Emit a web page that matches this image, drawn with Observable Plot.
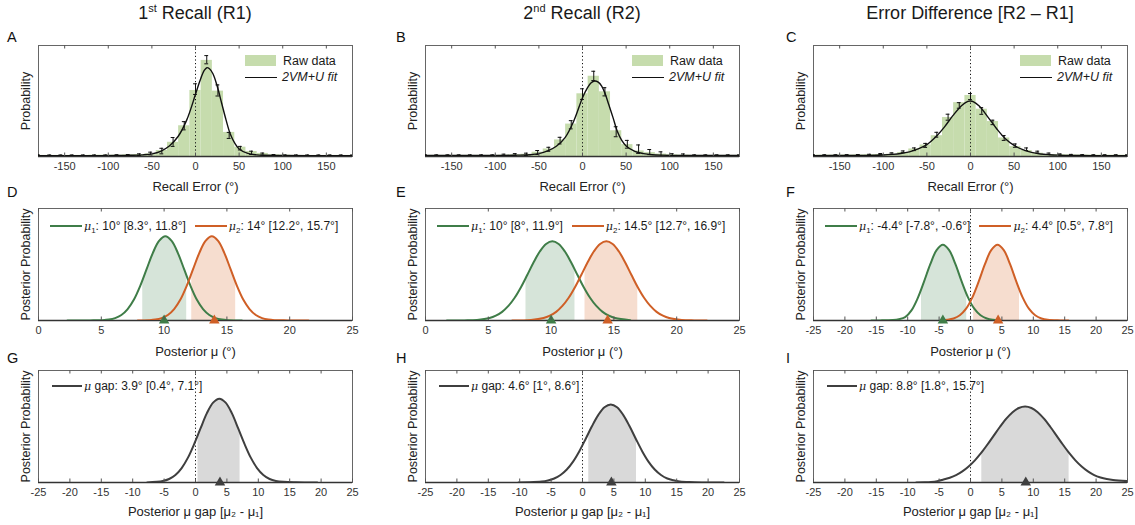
<!DOCTYPE html>
<html><head><meta charset="utf-8">
<script src="https://cdn.jsdelivr.net/npm/d3@7"></script>
<script src="https://cdn.jsdelivr.net/npm/@observablehq/plot@0.6"></script>
<style>
body{margin:0;background:#fff;font-family:"Liberation Sans",Arial,sans-serif;color:#1a1a1a;}
#root{position:relative;width:1135px;height:525px;overflow:hidden;background:#fff;}
.title{position:absolute;top:3px;font-size:18px;transform:translateX(-50%);white-space:nowrap;color:#1a1a1a;}
.title sup{font-size:11px;vertical-align:7px;line-height:0;}
.letter{position:absolute;font-size:14.5px;color:#111;}
.leg{position:absolute;display:flex;align-items:center;white-space:nowrap;color:#1a1a1a;}
.leg sub{font-size:8px;vertical-align:-3px;line-height:0;}
.leg i.mu{font-family:"DejaVu Serif","Liberation Serif",serif;font-size:11px;}
.leg i.fit{font-family:"Liberation Sans",Arial,sans-serif;font-size:12.5px;font-style:italic;}
</style></head>
<body><div id="root"></div>
<script>
// ---------- DATA ----------
const binCenters = [-180,-167.1,-154.3,-141.4,-128.6,-115.7,-102.9,-90,-77.1,-64.3,-51.4,-38.6,-25.7,-12.9,0,12.9,25.7,38.6,51.4,64.3,77.1,90,102.9,115.7,128.6,141.4,154.3,167.1,180];
const binWidth = 12.857;

const histA = [0.01,0.01,0.01,0.01,0.01,0.012,0.012,0.012,0.015,0.018,0.024,0.054,0.128,0.277,0.595,0.866,0.589,0.217,0.084,0.045,0.028,0.015,0.012,0.01,0.01,0.01,0.01,0.01,0.01];
const meanA = [0.01,0.01,0.01,0.01,0.01,0.01,0.01,0.012,0.012,0.016,0.027,0.049,0.131,0.277,0.607,0.872,0.595,0.19,0.075,0.033,0.022,0.012,0.01,0.01,0.01,0.01,0.01,0.01,0.01];
const seA   = [0.004,0.004,0.004,0.004,0.004,0.004,0.004,0.004,0.006,0.008,0.012,0.025,0.04,0.037,0.048,0.037,0.05,0.027,0.016,0.015,0.009,0.006,0.004,0.004,0.004,0.004,0.004,0.004,0.004];
const fitA = [[-180,0.008],[-150,0.008],[-120,0.008],[-90,0.009],[-75,0.011],[-60,0.015],[-50,0.024],[-40,0.047],[-30,0.095],[-20,0.18],[-10,0.33],[0,0.56],[5,0.68],[10,0.775],[13,0.8],[16,0.79],[20,0.745],[25,0.63],[30,0.48],[35,0.33],[40,0.2],[45,0.12],[50,0.068],[60,0.028],[70,0.015],[80,0.011],[100,0.009],[130,0.008],[180,0.008]];

const histB = [0.01,0.01,0.01,0.01,0.01,0.01,0.01,0.012,0.015,0.02,0.039,0.068,0.149,0.292,0.565,0.723,0.583,0.232,0.107,0.05,0.035,0.022,0.015,0.012,0.01,0.01,0.01,0.01,0.01];
const meanB = [0.01,0.01,0.01,0.01,0.01,0.01,0.01,0.015,0.018,0.02,0.036,0.065,0.143,0.286,0.562,0.726,0.583,0.223,0.11,0.066,0.04,0.022,0.015,0.015,0.01,0.01,0.01,0.01,0.01];
const seB   = [0.005,0.005,0.005,0.005,0.005,0.005,0.005,0.006,0.008,0.01,0.018,0.018,0.03,0.037,0.048,0.042,0.037,0.045,0.035,0.038,0.023,0.02,0.01,0.008,0.005,0.005,0.005,0.005,0.005];
const fitB = [[-180,0.009],[-120,0.009],[-90,0.01],[-75,0.012],[-60,0.016],[-50,0.026],[-40,0.05],[-30,0.092],[-20,0.17],[-10,0.32],[0,0.53],[5,0.61],[10,0.665],[14,0.68],[18,0.67],[22,0.635],[26,0.565],[30,0.47],[35,0.35],[40,0.225],[45,0.145],[50,0.095],[60,0.047],[70,0.026],[80,0.016],[90,0.012],[120,0.009],[180,0.009]];

const histC = [0.012,0.012,0.012,0.013,0.014,0.016,0.018,0.02,0.036,0.068,0.104,0.1875,0.351,0.485,0.55,0.426,0.315,0.167,0.089,0.054,0.03,0.018,0.016,0.014,0.013,0.012,0.012,0.012,0.012];
const meanC = [0.012,0.012,0.012,0.013,0.014,0.016,0.022,0.027,0.042,0.065,0.1,0.196,0.354,0.46,0.54,0.41,0.307,0.167,0.098,0.065,0.04,0.025,0.018,0.015,0.013,0.012,0.012,0.012,0.012];
const seC   = [0.004,0.004,0.004,0.004,0.004,0.004,0.005,0.006,0.008,0.012,0.018,0.022,0.027,0.025,0.027,0.03,0.02,0.022,0.015,0.012,0.008,0.006,0.005,0.004,0.004,0.004,0.004,0.004,0.004];
const fitC = [[-180,0.008],[-140,0.009],[-120,0.01],[-100,0.014],[-90,0.019],[-80,0.027],[-70,0.042],[-60,0.068],[-50,0.107],[-40,0.175],[-30,0.265],[-20,0.37],[-10,0.46],[-3,0.497],[0,0.5],[3,0.495],[10,0.455],[20,0.355],[30,0.25],[40,0.16],[50,0.1],[60,0.062],[70,0.037],[80,0.023],[90,0.016],[100,0.012],[120,0.009],[140,0.008],[180,0.008]];

// posterior mu curves [x, density]
const postD1 = [[2.3,0],[4.1,0.001],[5.1,0.003],[5.6,0.008],[6.1,0.021],[6.6,0.049],[7.1,0.102],[7.6,0.187],[8.1,0.309],[8.6,0.456],[9.1,0.602],[9.6,0.711],[10.1,0.752],[10.6,0.711],[11.1,0.602],[11.6,0.456],[12.1,0.309],[12.6,0.187],[13.1,0.102],[13.6,0.049],[14.1,0.021],[14.6,0.008],[15.1,0.003],[16.2,0]];
const postD2 = [[7.9,0],[8.8,0.003],[9.3,0.008],[9.8,0.021],[10.3,0.049],[10.8,0.102],[11.3,0.187],[11.8,0.309],[12.3,0.456],[12.8,0.602],[13.3,0.711],[13.8,0.752],[14.3,0.711],[14.8,0.602],[15.3,0.456],[15.8,0.309],[16.3,0.187],[16.8,0.102],[17.3,0.049],[17.8,0.021],[18.3,0.008],[18.8,0.003],[19.8,0.001],[21.5,0]];
const postE1 = [[1.7,0],[3.1,0.001],[4.1,0.005],[5.1,0.022],[5.6,0.043],[6.1,0.077],[6.6,0.13],[7.1,0.203],[7.6,0.297],[8.1,0.406],[8.6,0.518],[9.1,0.616],[9.6,0.683],[10.1,0.707],[10.6,0.683],[11.1,0.616],[11.6,0.518],[12.1,0.406],[12.6,0.297],[13.1,0.203],[13.6,0.13],[14.1,0.077],[14.6,0.043],[15.1,0.022],[16.3,0.003]];
const postE2 = [[6.9,0],[8.4,0.005],[9.4,0.022],[9.9,0.043],[10.4,0.077],[10.9,0.13],[11.4,0.203],[11.9,0.297],[12.4,0.406],[12.9,0.518],[13.4,0.616],[13.9,0.683],[14.4,0.707],[14.9,0.683],[15.4,0.616],[15.9,0.518],[16.4,0.406],[16.9,0.297],[17.4,0.203],[17.9,0.13],[18.4,0.077],[18.9,0.043],[19.4,0.022],[20.4,0.005],[21.4,0.001],[22.4,0]];
const postF1 = [[-15.8,0],[-14.4,0.001],[-12.4,0.005],[-11.4,0.012],[-10.4,0.03],[-9.4,0.09],[-8.4,0.2],[-7.4,0.347],[-6.4,0.503],[-5.4,0.628],[-4.4,0.676],[-3.4,0.628],[-2.4,0.503],[-1.4,0.347],[-0.4,0.207],[0.6,0.106],[1.6,0.047],[2.6,0.018],[3.6,0.006],[4.4,0.002]];
const postF2 = [[-4.4,0.002],[-3.7,0.006],[-2.7,0.018],[-1.7,0.047],[-0.7,0.106],[0.3,0.207],[1.3,0.347],[2.3,0.503],[3.3,0.628],[4.3,0.676],[5.3,0.628],[6.3,0.503],[7.3,0.347],[8.3,0.207],[9.3,0.106],[10.3,0.047],[11.3,0.018],[12.3,0.006],[14.3,0.001],[15.6,0]];
const gapG = [[-7.7,0],[-5.2,0.013],[-4.2,0.031],[-3.2,0.067],[-2.2,0.129],[-1.2,0.222],[-0.2,0.345],[0.8,0.483],[1.8,0.617],[2.8,0.713],[3.8,0.748],[4.8,0.713],[5.8,0.617],[6.8,0.483],[7.8,0.345],[8.8,0.222],[9.8,0.129],[10.8,0.067],[11.8,0.031],[12.8,0.014],[14,0.006],[16,0.002],[19.4,0]];
const gapH = [[-10.2,0],[-8.5,0.0015],[-6.5,0.008],[-5.5,0.018],[-4.5,0.036],[-3.5,0.067],[-2.5,0.116],[-1.5,0.187],[-0.5,0.28],[0.5,0.389],[1.5,0.502],[2.5,0.602],[3.5,0.672],[4.5,0.697],[5.5,0.672],[6.5,0.602],[7.5,0.502],[8.5,0.389],[9.5,0.28],[10.5,0.187],[11.5,0.116],[12.5,0.067],[13.5,0.036],[14.5,0.02],[15.5,0.01],[17,0.004],[19,0.001],[22.5,0]];
const gapI = [[-8.65,0],[-7.3,0.002],[-6.3,0.005],[-5.3,0.012],[-4.3,0.026],[-3.3,0.043],[-2.3,0.066],[-1.3,0.099],[-0.3,0.143],[0.7,0.198],[1.7,0.264],[2.7,0.339],[3.7,0.419],[4.7,0.498],[5.7,0.57],[6.7,0.628],[7.7,0.665],[8.7,0.678],[9.7,0.665],[10.7,0.628],[11.7,0.57],[12.7,0.498],[13.7,0.419],[14.7,0.339],[15.7,0.264],[16.7,0.198],[17.7,0.143],[18.7,0.099],[19.7,0.066],[20.7,0.045],[21.7,0.031],[22.7,0.022],[25,0.012]];

// summaries: [mean, CI low, CI high]
const sumD1 = [10, 8.3, 11.8], sumD2 = [14, 12.2, 15.7];
const sumE1 = [10, 8, 11.9],   sumE2 = [14.5, 12.7, 16.9];
const sumF1 = [-4.4, -7.8, -0.6], sumF2 = [4.4, 0.5, 7.8];
const sumG = [3.9, 0.4, 7.1], sumH = [4.6, 1, 8.6], sumI = [8.8, 1.8, 15.7];

const colTitles = ["1<sup>st</sup> Recall (R1)", "2<sup>nd</sup> Recall (R2)", "Error Difference [R2 \u2013 R1]"];
const panelLetters = [["A","B","C"],["D","E","F"],["G","H","I"]];
const ticksHist = [-150,-100,-50,0,50,100,150];
const ticksMu = [0,5,10,15,20,25];
const ticksWide = [-25,-20,-15,-10,-5,0,5,10,15,20,25];

// ---------- LAYOUT ----------
const root = document.getElementById("root");
const FONT = "'Liberation Sans', Arial, sans-serif";
const COLS = [0, 387, 775];
const W = 360, ML = 38, MR = 8;
const ROWS = [{top:28,h:167,mt:17,mb:39,lo:34},{top:195,h:165,mt:13,mb:40,lo:35},{top:360,h:165,mt:10,mb:43,lo:33}];
const GREEN = "#3f7d48", ORANGE = "#cf5f26", GREEN_SH = "#d6e4d9", ORANGE_SH = "#f6ddcf", GRAY = "#3f3f3f", GRAY_SH = "#d9d9d9";

function axes(ticks, plotH, xLabel, yLabel, labelOffset) {
  return [
    Plot.ruleX(ticks, {stroke: "#555", insetTop: plotH - 3.5}),
    Plot.ruleX(ticks, {stroke: "#555", insetBottom: plotH - 3.5}),
    Plot.axisX({ticks, tickSize: 0, tickPadding: 6, tickFormat: d => String(d), label: null, fontSize: 11, fill: "#333"}),
    Plot.axisX({ticks: [], tickSize: 0, label: xLabel, labelAnchor: "center", labelOffset, labelArrow: "none", fontSize: 13, fill: "#222"}),
    Plot.axisY({ticks: [], tickSize: 0, label: yLabel, labelAnchor: "center", labelOffset: 17, labelArrow: "none", fontSize: 12.5, fill: "#222"})
  ];
}

function mount(svg, col, row) {
  svg.style.position = "absolute";
  svg.style.left = COLS[col] + "px";
  svg.style.top = ROWS[row].top + "px";
  root.appendChild(svg);
}

function plotOpts(row, domain, marks) {
  const R = ROWS[row];
  return {
    width: W, height: R.h, marginLeft: ML, marginRight: MR, marginTop: R.mt, marginBottom: R.mb,
    x: {domain}, y: {domain: [0, 1]},
    style: {fontFamily: FONT, fontSize: "11px", color: "#333", background: "transparent", overflow: "visible"},
    marks
  };
}

function histPanel(col, hist, mean, se, fit) {
  const R = ROWS[0], plotH = R.h - R.mt - R.mb;
  const rows = binCenters.map((c, i) => ({c, v: hist[i], m: mean[i], s: se[i]}));
  const cap = 2.2;
  const svg = Plot.plot(plotOpts(0, [-180, 180], [
    Plot.rect(rows, {x1: d => d.c - binWidth / 2, x2: d => d.c + binWidth / 2, y1: 0, y2: "v", fill: "#c6dcad", clip: true}),
    Plot.frame({stroke: "#666"}),
    Plot.ruleY([0], {stroke: "#333", strokeWidth: 1.5}),
    Plot.ruleX([0], {stroke: "#111", strokeDasharray: "1.2,2.4"}),
    Plot.line(fit, {x: d => d[0], y: d => d[1], curve: "catmull-rom", stroke: "#111", strokeWidth: 1.4, clip: true}),
    Plot.ruleX(rows, {x: "c", y1: d => d.m - d.s, y2: d => d.m + d.s, stroke: "#111", clip: true}),
    Plot.ruleY(rows, {y: d => d.m - d.s, x1: d => d.c - cap, x2: d => d.c + cap, stroke: "#111", clip: true}),
    Plot.ruleY(rows, {y: d => d.m + d.s, x1: d => d.c - cap, x2: d => d.c + cap, stroke: "#111", clip: true}),
    ...axes(ticksHist, plotH, "Recall Error (\u00B0)", "Probability", R.lo)
  ]));
  mount(svg, col, 0);
  // legend
  const left = COLS[col] + ML + 207, top = R.top + R.mt + 7.5;
  const lg = document.createElement("div");
  lg.className = "leg";
  lg.style.cssText += `left:${left}px;top:${top}px;flex-direction:column;align-items:flex-start;font-size:12.5px;`;
  lg.innerHTML = `<div style="display:flex;align-items:center;height:16.5px"><span style="display:inline-block;width:31px;height:11px;background:#c6dcad;margin-right:7px"></span>Raw data</div>
  <div style="display:flex;align-items:center;height:16.5px"><span style="display:inline-block;width:32px;height:1.5px;background:#111;margin-right:5px"></span><i class="fit">2VM+U fit</i></div>`;
  root.appendChild(lg);
}

function clipAreas(svg, plotH, row, ranges) {
  const ns = "http://www.w3.org/2000/svg";
  const x = svg.scale("x");
  const defs = document.createElementNS(ns, "defs");
  svg.insertBefore(defs, svg.firstChild);
  const groups = svg.querySelectorAll('g[aria-label="area"]');
  groups.forEach((g, i) => {
    const id = "clip" + Math.random().toString(36).slice(2);
    const cp = document.createElementNS(ns, "clipPath");
    cp.setAttribute("id", id);
    const r = document.createElementNS(ns, "rect");
    const x0 = x.apply(ranges[i][1]), x1 = x.apply(ranges[i][2]);
    r.setAttribute("x", x0); r.setAttribute("width", x1 - x0);
    r.setAttribute("y", ROWS[row].mt); r.setAttribute("height", plotH);
    cp.appendChild(r); defs.appendChild(cp);
    g.setAttribute("clip-path", `url(#${id})`);
  });
}

function posteriorPanel(col, row, domain, ticks, series, zero, xLabel) {
  const R = ROWS[row], plotH = R.h - R.mt - R.mb;
  const svg = Plot.plot(plotOpts(row, domain, [
    ...series.map(s => Plot.areaY(s.pts, {x: d => d[0], y1: 0, y2: d => d[1], curve: "catmull-rom", fill: s.shade})),
    Plot.frame({stroke: "#666"}),
    Plot.ruleY([0], {stroke: "#333", strokeWidth: 1.5}),
    zero ? Plot.ruleX([0], {stroke: "#111", strokeDasharray: "1.2,2.4"}) : null,
    ...series.map(s => Plot.line(s.pts, {x: d => d[0], y: d => d[1], curve: "catmull-rom", stroke: s.color, strokeWidth: 2, clip: true})),
    ...series.map(s => Plot.dot([s.sum], {x: d => d[0], y: () => 0, symbol: "triangle", r: 3.9, fill: s.color, stroke: "none"})),
    ...axes(ticks, plotH, xLabel, "Posterior Probability", R.lo)
  ]));
  mount(svg, col, row);
  clipAreas(svg, plotH, row, series.map(s => s.sum));
  // legend
  const lg = document.createElement("div");
  lg.className = "leg";
  lg.style.cssText += `left:${COLS[col] + ML + (row === 1 ? 12 : 14)}px;top:${R.top + R.mt + (row === 1 ? 18 : 16) - 8}px;height:16px;font-size:12px;`;
  lg.innerHTML = series.map((s, i) => {
    const name = row === 1 ? `<i class="mu">\u03BC</i><sub>${i + 1}</sub>` : `<i class="mu">\u03BC</i>&nbsp;gap`;
    return `<span style="display:inline-block;width:${row === 1 ? 32 : 30}px;height:2px;background:${s.color};margin-right:2px"></span>` +
      `<span style="margin-right:9px">${name}: ${s.sum[0]}\u00B0 [${s.sum[1]}\u00B0, ${s.sum[2]}\u00B0]</span>`;
  }).join("");
  root.appendChild(lg);
}

// ---------- DRAW ----------
histPanel(0, histA, meanA, seA, fitA);
histPanel(1, histB, meanB, seB, fitB);
histPanel(2, histC, meanC, seC, fitC);

const muLabel = "Posterior \u03BC (\u00B0)";
posteriorPanel(0, 1, [0, 25], ticksMu, [
  {pts: postD1, sum: sumD1, color: GREEN, shade: GREEN_SH},
  {pts: postD2, sum: sumD2, color: ORANGE, shade: ORANGE_SH}], false, muLabel);
posteriorPanel(1, 1, [0, 25], ticksMu, [
  {pts: postE1, sum: sumE1, color: GREEN, shade: GREEN_SH},
  {pts: postE2, sum: sumE2, color: ORANGE, shade: ORANGE_SH}], false, muLabel);
posteriorPanel(2, 1, [-25, 25], ticksWide, [
  {pts: postF1, sum: sumF1, color: GREEN, shade: GREEN_SH},
  {pts: postF2, sum: sumF2, color: ORANGE, shade: ORANGE_SH}], true, muLabel);

const gapLabel = "Posterior \u03BC gap [\u03BC\u2082 - \u03BC\u2081]";
posteriorPanel(0, 2, [-25, 25], ticksWide, [{pts: gapG, sum: sumG, color: GRAY, shade: GRAY_SH}], true, gapLabel);
posteriorPanel(1, 2, [-25, 25], ticksWide, [{pts: gapH, sum: sumH, color: GRAY, shade: GRAY_SH}], true, gapLabel);
posteriorPanel(2, 2, [-25, 25], ticksWide, [{pts: gapI, sum: sumI, color: GRAY, shade: GRAY_SH}], true, gapLabel);

// titles and panel letters
colTitles.forEach((t, c) => {
  const d = document.createElement("div");
  d.className = "title";
  d.style.left = (COLS[c] + ML + 157) + "px";
  d.innerHTML = t;
  root.appendChild(d);
});
const letterX = [7, 396, 786], letterY = [29, 184, 350];
panelLetters.forEach((r, ri) => r.forEach((L, ci) => {
  const d = document.createElement("div");
  d.className = "letter";
  d.style.left = letterX[ci] + "px";
  d.style.top = letterY[ri] + "px";
  d.textContent = L;
  root.appendChild(d);
}));
</script></body></html>
